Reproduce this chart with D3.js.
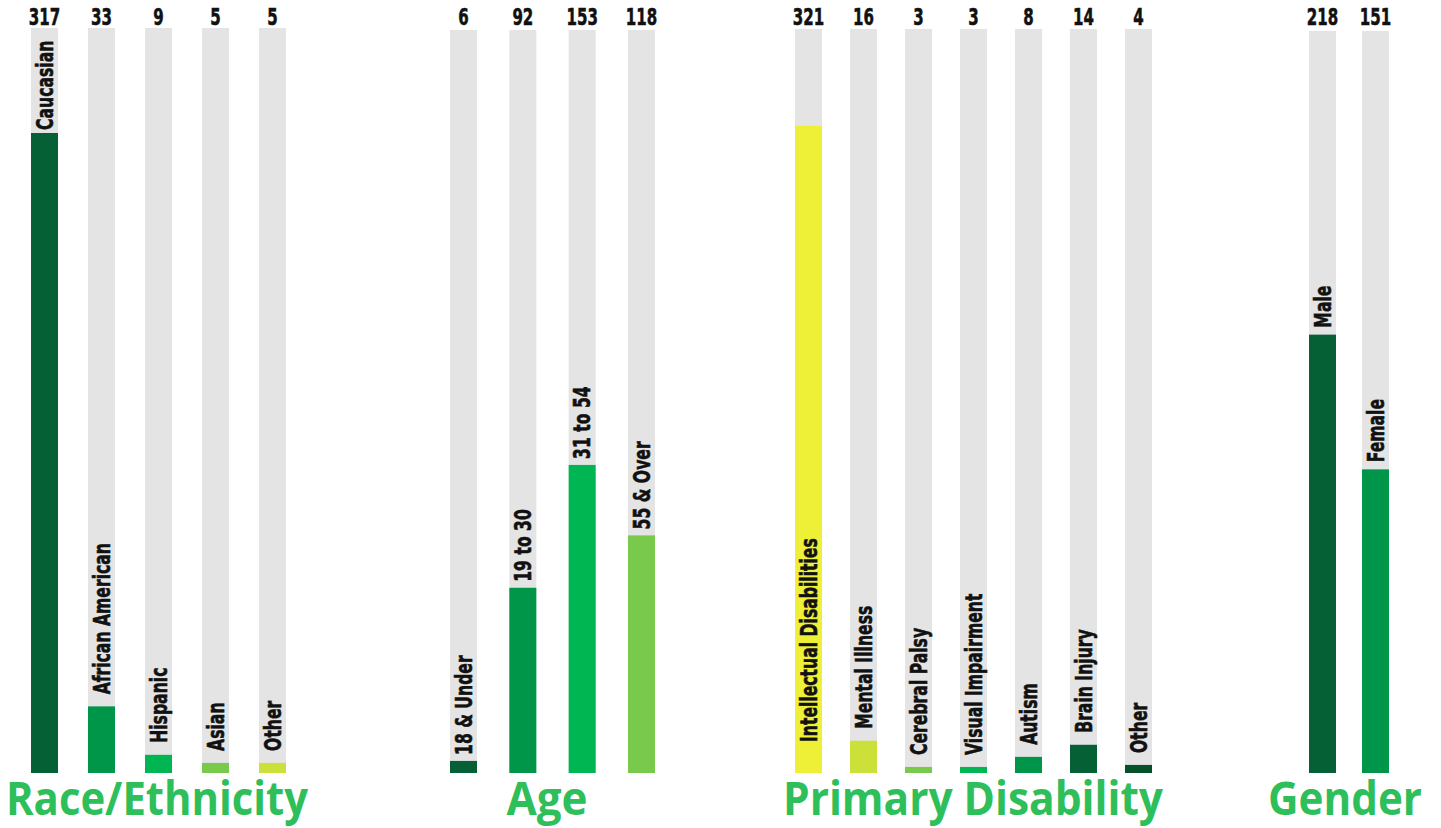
<!DOCTYPE html>
<html>
<head>
<meta charset="utf-8">
<script src="https://cdn.jsdelivr.net/npm/d3@7"></script>
<style>
  html, body { margin: 0; padding: 0; background: #fff; }
  svg { display: block; }
  .val, .cat { font-family: "DejaVu Sans", sans-serif; font-weight: bold; fill: #111; stroke: #111; stroke-width: 0.6px; }
  .title { font-family: "Open Sans", "Noto Sans", sans-serif; font-weight: bold; fill: #2ebe5a; }
</style>
</head>
<body>
<svg id="chart" width="1441" height="828"></svg>
<script>
// ---- data ----
const raceCategories = ["Caucasian", "African American", "Hispanic", "Asian", "Other"];
const raceValues = [317, 33, 9, 5, 5];
const raceColors = ["#066036", "#00964a", "#00b652", "#78c94c", "#cbe13a"];

const ageCategories = ["18 & Under", "19 to 30", "31 to 54", "55 & Over"];
const ageValues = [6, 92, 153, 118];
const ageColors = ["#066036", "#00964a", "#00b652", "#78c94c"];

const disabilityCategories = ["Intellectual Disabilities", "Mental Illness", "Cerebral Palsy", "Visual Impairment", "Autism", "Brain Injury", "Other"];
const disabilityValues = [321, 16, 3, 3, 8, 14, 4];
const disabilityColors = ["#eef038", "#cbe13a", "#78c94c", "#00b652", "#00964a", "#066036", "#054f29"];

const genderCategories = ["Male", "Female"];
const genderValues = [218, 151];
const genderColors = ["#066036", "#00964a"];

const groupTitles = ["Race/Ethnicity", "Age", "Primary Disability", "Gender"];

// ---- layout ----
const groups = [
  { title: groupTitles[0], cats: raceCategories, vals: raceValues, colors: raceColors, x0: 31, x1: 286, top: 28, titleX: 157, titleW: 302, gap: 12 },
  { title: groupTitles[1], cats: ageCategories, vals: ageValues, colors: ageColors, x0: 450, x1: 655, top: 30, titleX: 547, titleW: 81, gap: 6 },
  { title: groupTitles[2], cats: disabilityCategories, vals: disabilityValues, colors: disabilityColors, x0: 795, x1: 1152, top: 29, titleX: 973, titleW: 380, gap: 12 },
  { title: groupTitles[3], cats: genderCategories, vals: genderValues, colors: genderColors, x0: 1309, x1: 1389, top: 31, titleX: 1345, titleW: 154, gap: 7 }
];
const bottom = 773;
const barW = 27;
const catScale = 0.68;
const valScale = 0.64;
const svg = d3.select("#chart");

groups.forEach(g => {
  const n = g.cats.length;
  const step = (g.x1 - g.x0 - barW) / (n - 1);
  const x = d3.scaleBand()
    .domain(g.cats)
    .range([g.x0, g.x1])
    .paddingInner(1 - barW / step)
    .paddingOuter(0);
  const total = d3.sum(g.vals);
  const y = d3.scaleLinear().domain([0, total]).range([bottom, g.top]);
  const data = g.cats.map((c, i) => ({ cat: c, val: g.vals[i], color: g.colors[i] }));

  const gg = svg.append("g");
  gg.selectAll("rect.bg").data(data).join("rect")
    .attr("class", "bg")
    .attr("x", d => x(d.cat))
    .attr("width", x.bandwidth())
    .attr("y", y(total))
    .attr("height", y(0) - y(total))
    .attr("fill", "#e4e4e4");
  gg.selectAll("rect.bar").data(data).join("rect")
    .attr("class", "bar")
    .attr("x", d => x(d.cat))
    .attr("width", x.bandwidth())
    .attr("y", d => y(d.val))
    .attr("height", d => y(0) - y(d.val))
    .attr("fill", d => d.color);
  gg.selectAll("text.val").data(data).join("text")
    .attr("class", "val")
    .attr("transform", d => `translate(${x(d.cat) + x.bandwidth() / 2},25) scale(${valScale},1)`)
    .attr("text-anchor", "middle")
    .attr("font-size", 23.5)
    .text(d => d.val);
  const cats = gg.selectAll("text.cat").data(data).join("text")
    .attr("class", "cat")
    .attr("dy", "0.36em")
    .attr("font-size", 23)
    .text(d => d.cat);
  cats.each(function(d) {
    const len = this.getComputedTextLength() * catScale;
    const barTop = y(d.val);
    let start;
    if (barTop - g.top - len - 4 < 0) {
      start = bottom - 31; // doesn't fit above: place inside the bar
    } else {
      const gap = Math.max(3, Math.min(g.gap, barTop - 41 - len));
      start = barTop - gap;
    }
    d3.select(this).attr("transform",
      `translate(${x(d.cat) + x.bandwidth() / 2},${start}) rotate(-90) scale(${catScale},1)`);
  });
  svg.append("text")
    .attr("class", "title")
    .attr("x", g.titleX)
    .attr("y", 815)
    .attr("text-anchor", "middle")
    .attr("font-size", 47)
    .attr("textLength", g.titleW)
    .attr("lengthAdjust", "spacingAndGlyphs")
    .text(g.title);
});
</script>
</body>
</html>
